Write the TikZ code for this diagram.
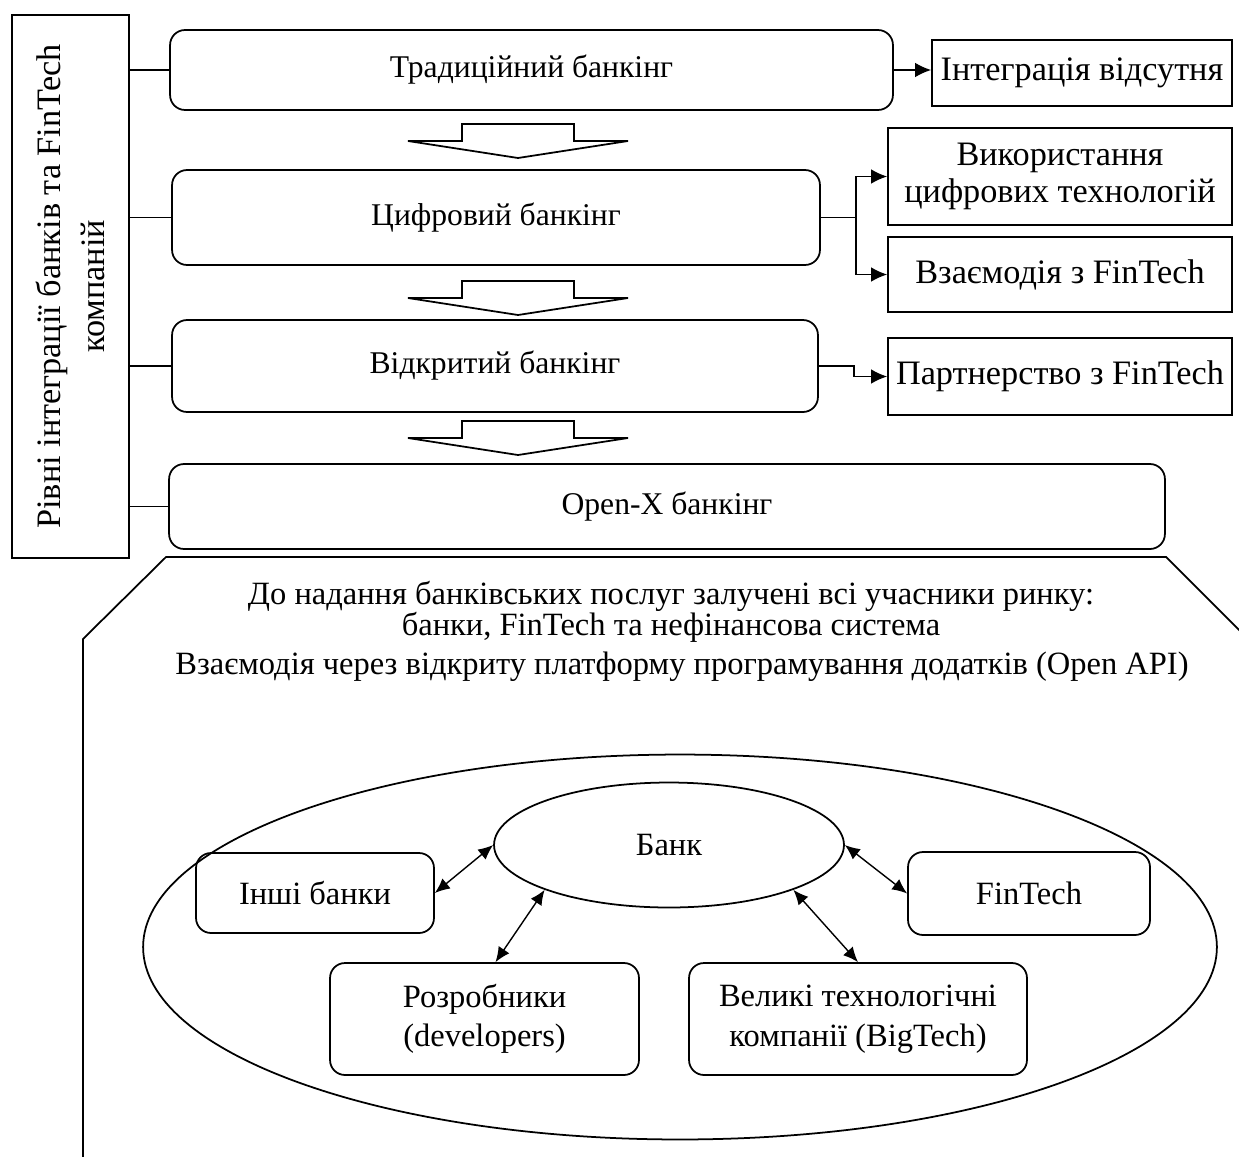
\documentclass[tikz,border=0pt]{standalone}
\usepackage{fontspec}
\setmainfont{Liberation Serif}
\usepackage{tikz}
\usetikzlibrary{arrows.meta, positioning, shapes.geometric}

\begin{document}
\begin{tikzpicture}[x=0.02cm, y=-0.02cm]
    \tikzset{%
        txt/.style={font=\fontsize{18.5}{22.5}\selectfont, align=center, inner sep=0pt},
        level/.style={txt, font=\fontsize{18}{22}\selectfont, draw, line width=1pt, rounded corners=0.3cm},
        result/.style={txt, font=\fontsize{19.5}{21}\selectfont, draw, line width=1pt},
        member/.style={txt, draw, line width=1pt, rounded corners=0.3cm},
        link/.style={line width=0.8pt},
        tip/.style={link, -{Latex[length=3.2mm, width=2.9mm]}},
        both/.style={link, {Latex[length=3mm, width=2.6mm]}-{Latex[length=3mm, width=2.6mm]}},
        pics/downarrow/.style={code={%
                        \draw [line width=1pt, line join=miter]
                        (-56, 0) -- (56, 0) -- (56, 17) -- (110, 17) -- (0, 34)
                        -- (-110, 17) -- (-56, 17) -- cycle;
                    }
            }
    }
    \useasboundingbox (0, 0) rectangle (1239, 1156);

    % levels
    \node [result, font=\fontsize{19.5}{25.5}\selectfont, rotate=90, minimum width=10.86cm, minimum height=2.34cm]
    (levels) at (70.5, 286.5) {Рівні інтеграції банків та FinTech\\компаній};
    \node [level, minimum width=14.46cm, minimum height=1.6cm] (trad) at (531.5, 70) {Традиційний банкінг};
    \node [level, minimum width=12.96cm, minimum height=1.9cm] (digital) at (496, 217.5) {Цифровий банкінг};
    \node [level, minimum width=12.92cm, minimum height=1.84cm] (open) at (495, 366) {Відкритий банкінг};
    \node [level, minimum width=19.92cm, minimum height=1.7cm] (openx) at (667, 506.5) {Open-X банкінг};

    \foreach \lvl in {trad, digital, open, openx} {%
            \draw [link] (levels.south |- \lvl.west) -- (\lvl.west);
        };

    % transitions
    \foreach \y in {124, 281, 421} {%
            \pic at (518, \y) {downarrow};
        };

    % results
    \node [result, minimum width=6cm, minimum height=1.32cm] (none) at (1082, 73) {Інтеграція відсутня};
    \node [result, minimum width=6.88cm, minimum height=1.94cm] (usedigital) at (1060, 176.5)
    {Використання\\цифрових технологій};
    \node [result, minimum width=6.88cm, minimum height=1.5cm] (interact) at (1060, 274.5) {Взаємодія з FinTech};
    \node [result, minimum width=6.88cm, minimum height=1.54cm] (partner) at (1060, 376.5) {Партнерство з FinTech};

    \draw [tip] (trad.east) -- (trad.east -| none.west);
    \draw [link] (digital.east) -- ++(35, 0) coordinate (fork);
    \draw [tip] (fork) |- (usedigital.west);
    \draw [tip] (fork) |- (interact.west);
    \draw [tip] (open.east) -- ++(35, 0) |- (partner.west);

    % Open-X frame
    \draw [line width=1pt] (83, 1160) -- (83, 639) -- (166, 557) -- (1166, 557) -- (1250, 641);
    \node [txt, font=\fontsize{18.5}{17.6}\selectfont] (market) at (671, 612)
    {До надання банківських послуг залучені всі учасники ринку:\\банки, FinTech та нефінансова система};
    \node [txt] (api) at (682, 667)
    {Взаємодія через відкриту платформу програмування додатків (Open API)};

    % platform
    \node [draw, ellipse, line width=1pt, minimum width=21.48cm, minimum height=7.7cm] (platform) at (680, 947) {};
    \node [txt, draw, ellipse, line width=1pt, minimum width=7cm, minimum height=2.5cm] (bank) at (669, 845) {Банк};
    \node [member, minimum width=4.76cm, minimum height=1.6cm] (others) at (315, 893) {Інші банки};
    \node [member, minimum width=4.84cm, minimum height=1.66cm] (fintech) at (1029, 893.5) {FinTech};
    \node [member, minimum width=6.18cm, minimum height=2.24cm] (devs) at (484.5, 1019)
    {Розробники\\(developers)};
    \node [member, minimum width=6.76cm, minimum height=2.24cm] (bigtech) at (858, 1019)
    {Великі технологічні\\компанії (BigTech)};

    \draw [both] (others.east) -- (bank.west);
    \draw [both] (fintech.west) -- (bank.east);
    \draw [both] ([xshift=0.22cm]devs.north) -- (bank.south west);
    \draw [both] (bigtech.north) -- (bank.south east);
\end{tikzpicture}
\end{document}
